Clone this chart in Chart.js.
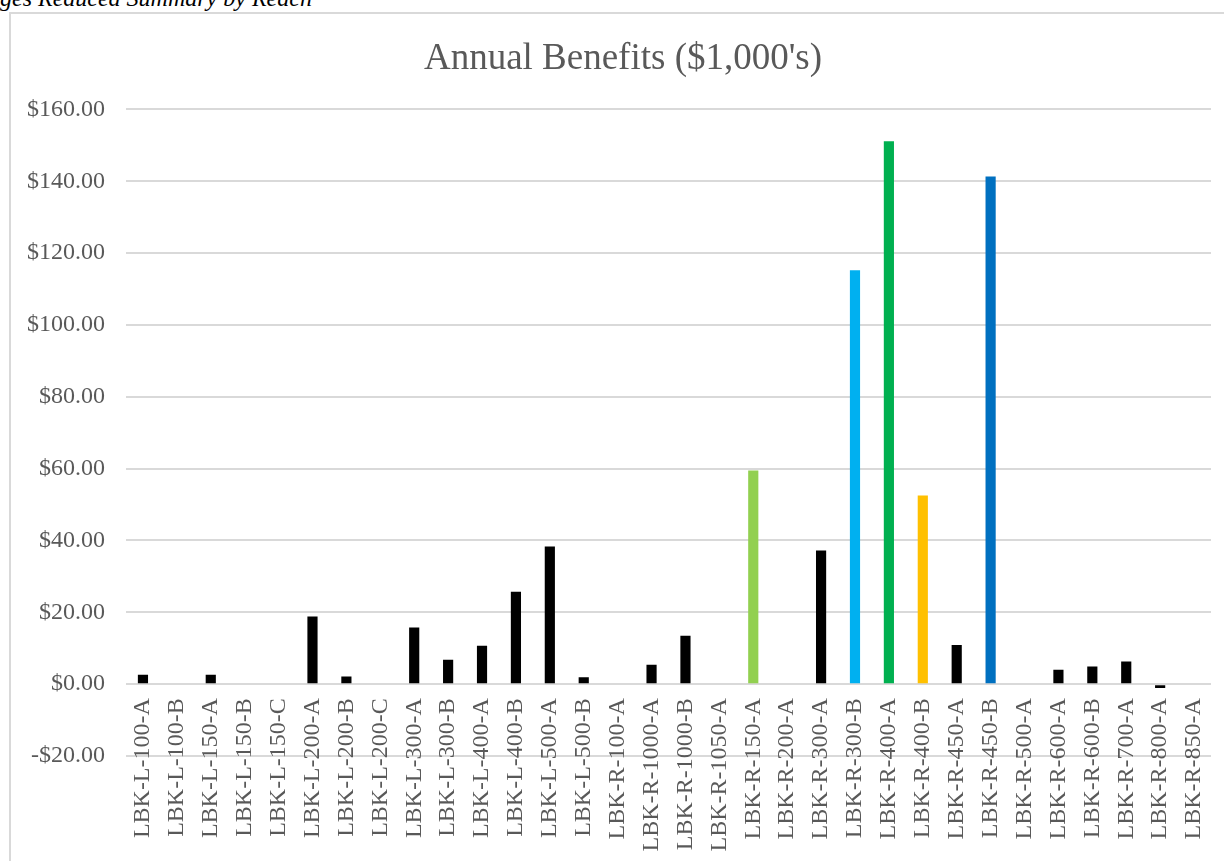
<!DOCTYPE html>
<html>
<head>
<meta charset="utf-8">
<script src="https://cdn.jsdelivr.net/npm/chart.js@4"></script>
<style>
  html, body { margin: 0; padding: 0; background: #fff; overflow: hidden; }
  body { width: 1224px; height: 861px; position: relative; }
  #caption {
    position: absolute; left: 0; top: -14px;
    font: italic 24px "Liberation Serif", "Times New Roman", serif;
    line-height: 24px; white-space: nowrap; color: #000;
  }
  #box {
    position: absolute; left: 9px; top: 12px;
    width: 1230px; height: 860px;
    border: 2px solid #d9d9d9;
  }
  #wrap { position: absolute; left: 0; top: 0; width: 1213px; height: 847px; }
</style>
</head>
<body>
<div id="caption">ges Reduced Summary by Reach</div>
<div id="box">
  <div id="wrap"><canvas id="stage"></canvas></div>
</div>
<script>
// 区間名
const reaches = [
  'LBK-L-100-A', 'LBK-L-100-B', 'LBK-L-150-A', 'LBK-L-150-B', 'LBK-L-150-C',
  'LBK-L-200-A', 'LBK-L-200-B', 'LBK-L-200-C', 'LBK-L-300-A', 'LBK-L-300-B',
  'LBK-L-400-A', 'LBK-L-400-B', 'LBK-L-500-A', 'LBK-L-500-B', 'LBK-R-100-A',
  'LBK-R-1000-A', 'LBK-R-1000-B', 'LBK-R-1050-A', 'LBK-R-150-A', 'LBK-R-200-A',
  'LBK-R-300-A', 'LBK-R-300-B', 'LBK-R-400-A', 'LBK-R-400-B', 'LBK-R-450-A',
  'LBK-R-450-B', 'LBK-R-500-A', 'LBK-R-600-A', 'LBK-R-600-B', 'LBK-R-700-A',
  'LBK-R-800-A', 'LBK-R-850-A'
];

// 年間便益 ($1,000's)
const benefits = [
  2.6, 0, 2.6, 0, 0,
  18.8, 2.1, 0, 15.8, 6.8,
  10.7, 25.7, 38.3, 1.9, 0,
  5.4, 13.5, 0, 59.5, 0,
  37.2, 115.2, 151.1, 52.5, 10.9,
  141.3, 0, 4.0, 4.9, 6.3,
  -1.1, 0
];

// 強調する区間の色（それ以外は黒）
const highlight = {
  'LBK-R-150-A': '#92d050',
  'LBK-R-300-B': '#00b0f0',
  'LBK-R-400-A': '#00b050',
  'LBK-R-400-B': '#ffc000',
  'LBK-R-450-B': '#0070c0'
};

const yTicks = [-20, 0, 20, 40, 60, 80, 100, 120, 140, 160];

const barColors = reaches.map(r => highlight[r] || '#000000');
const serif = '"Liberation Serif", "Times New Roman", serif';

function money(v) {
  const s = '$' + Math.abs(v).toFixed(2);
  return v < 0 ? '-' + s : s;
}

// タイトルを少し右へ寄せる
const titleShift = {
  id: 'titleShift',
  afterLayout(chart) {
    if (chart.titleBlock) chart.titleBlock.left += 24;
  }
};

new Chart(document.getElementById('stage'), {
  type: 'bar',
  data: {
    labels: reaches,
    datasets: [{
      label: 'Annual Benefits',
      data: benefits,
      backgroundColor: barColors,
      borderWidth: 0,
      barPercentage: 0.3,
      categoryPercentage: 1.0
    }]
  },
  options: {
    responsive: true,
    maintainAspectRatio: false,
    animation: false,
    layout: { padding: { left: 0, right: 13, top: 0, bottom: 105 } },
    plugins: {
      legend: { display: false },
      tooltip: { enabled: false },
      title: {
        display: true,
        text: "Annual Benefits ($1,000's)",
        color: '#595959',
        font: { family: serif, size: 37, weight: 'normal' },
        padding: { top: 23, bottom: 28 }
      }
    },
    scales: {
      x: {
        position: { y: 0 },
        afterFit: axis => { axis.paddingLeft = 0; axis.paddingRight = 0; },
        grid: { display: false, drawTicks: false },
        border: { display: false },
        ticks: {
          autoSkip: false,
          minRotation: 90,
          maxRotation: 90,
          padding: 14,
          color: '#595959',
          font: { family: serif, size: 24 }
        }
      },
      y: {
        min: yTicks[0],
        max: yTicks[yTicks.length - 1],
        afterBuildTicks: axis => { axis.ticks = yTicks.map(v => ({ value: v })); },
        afterFit: axis => { axis.width = 115; },
        grid: { color: '#d9d9d9', lineWidth: 2, drawTicks: false },
        border: { display: false },
        ticks: {
          padding: 21,
          color: '#595959',
          font: { family: serif, size: 24 },
          callback: v => money(v)
        }
      }
    }
  },
  plugins: [titleShift]
});
</script>
</body>
</html>
